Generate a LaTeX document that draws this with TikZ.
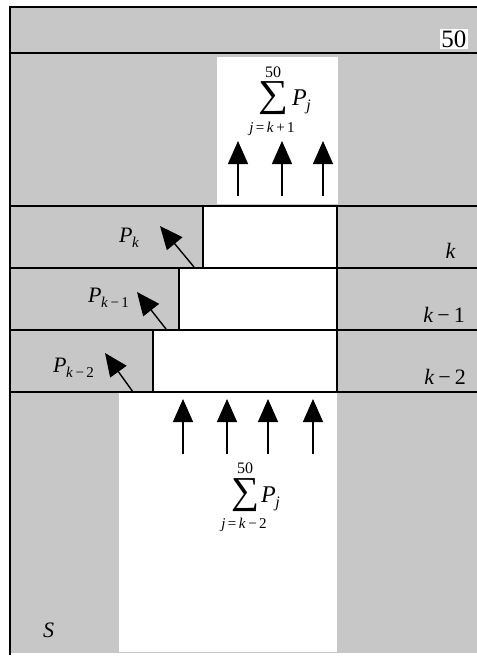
\documentclass[tikz,border=0pt]{standalone}
\usepackage{fontspec}
\setmainfont{Liberation Serif}
\usetikzlibrary{arrows.meta}
% italic symbol with a lowered index
\newcommand\symsub[3]{\textit{#1}\kern-0.5pt\raisebox{-5pt}{\fontsize{#3}{#3}\selectfont #2}}
\newcommand\mns{\hspace{0.18em}\textminus\hspace{0.18em}}
\newcommand\bigsum[2]{\resizebox*{#1}{#2}{∑}}
\begin{document}
\begin{tikzpicture}[x=1pt,y=-1pt,
  rule/.style={line width=1.6pt},
  boxcell/.style={line width=1.6pt, fill=white},
  flow/.style={line width=1.4pt, -{Triangle[length=23pt,width=20pt]}},
  lbl/.style={font=\fontsize{22}{26}\selectfont, inner sep=0pt},
  small/.style={font=\fontsize{15}{18}\selectfont, inner sep=0pt},
  plain/.style={inner sep=0pt}]
\useasboundingbox (0,0) rectangle (477,657);
\fill[white] (0,0) rectangle (477,657);
% stippled field
\fill[black!22] (10,7) rectangle (477,653);
% open regions above and below the levels
\fill[white] (217,57) rectangle (338,204);
\fill[white] (119,392) rectangle (337,652);
% frame and level boundaries
\draw[line width=2pt] (477,7) -- (10,7) -- (10,655);
\draw[rule] (10,53) -- (477,53);
\draw[rule] (10,206) -- (477,206);
\draw[rule] (10,268) -- (477,268);
\draw[rule] (10,330) -- (477,330);
\draw[rule] (10,392) -- (477,392);
% levels k, k-1, k-2
\draw[boxcell] (203,206) rectangle (337,268);
\draw[boxcell] (179,268) rectangle (337,330);
\draw[boxcell] (153,330) rectangle (337,392);
% level labels
\node[font=\fontsize{25}{28}\selectfont, fill=white, inner sep=1.5pt, anchor=base east] (top) at (468,47) {50};
\node[lbl, anchor=base east] (lk) at (456,258) {\textit{k}};
\node[lbl, anchor=base east] (lk1) at (465,322) {\textit{k}\mns 1};
\node[lbl, anchor=base east] (lk2) at (466,384) {\textit{k}\mns 2};
\node[lbl, anchor=base west] (pk) at (119,242) {\symsub{P}{\textit{k}}{15}};
\node[lbl, anchor=base west] (pk1) at (88,302) {\symsub{P}{\textit{k}\,\textminus\,1}{15}};
\node[lbl, anchor=base west] (pk2) at (53,372) {\symsub{P}{\textit{k}\,\textminus\,2}{15}};
\node[lbl, anchor=base west] (s) at (43,637) {\textit{S}};
% upper sum
\node[plain] (sigup) at (273,98.5) {\bigsum{30pt}{33pt}};
\node[small, font=\fontsize{16}{18}\selectfont, anchor=base] (uptop) at (273,77) {50};
\node[small, anchor=base] (upbot) at (272,132) {\textit{j}\,=\,\textit{k}\,+\,1};
\node[lbl, font=\fontsize{24}{28}\selectfont, anchor=base west] (upp) at (292,105) {\symsub{P}{\textit{j}}{16}};
% lower sum
\node[plain] (siglow) at (245,495.5) {\bigsum{28pt}{33pt}};
\node[small, font=\fontsize{16}{18}\selectfont, anchor=base] (lowtop) at (245,473) {50};
\node[small, anchor=base] (lowbot) at (244,528) {\textit{j}\,=\,\textit{k}\,\textminus\,2};
\node[lbl, font=\fontsize{24}{28}\selectfont, anchor=base west] (lowp) at (261,502) {\symsub{P}{\textit{j}}{16}};
% arrow ends
\coordinate (a1) at (238,196); \coordinate (b1) at (238,141);
\coordinate (a2) at (282,196); \coordinate (b2) at (282,141);
\coordinate (a3) at (323,196); \coordinate (b3) at (323,141);
\draw[flow] (a1) -- (b1);
\draw[flow] (a2) -- (b2);
\draw[flow] (a3) -- (b3);
\coordinate (c1) at (183,454); \coordinate (d1) at (183,399);
\coordinate (c2) at (227,454); \coordinate (d2) at (227,399);
\coordinate (c3) at (268,454); \coordinate (d3) at (268,399);
\coordinate (c4) at (313,454); \coordinate (d4) at (313,399);
\draw[flow] (c1) -- (d1);
\draw[flow] (c2) -- (d2);
\draw[flow] (c3) -- (d3);
\draw[flow] (c4) -- (d4);
\coordinate (e1) at (194,267); \coordinate (f1) at (160,226);
\coordinate (e2) at (166,329); \coordinate (f2) at (137,292);
\coordinate (e3) at (133,392); \coordinate (f3) at (105,353);
\draw[flow] (e1) -- (f1);
\draw[flow] (e2) -- (f2);
\draw[flow] (e3) -- (f3);
\end{tikzpicture}
\end{document}
